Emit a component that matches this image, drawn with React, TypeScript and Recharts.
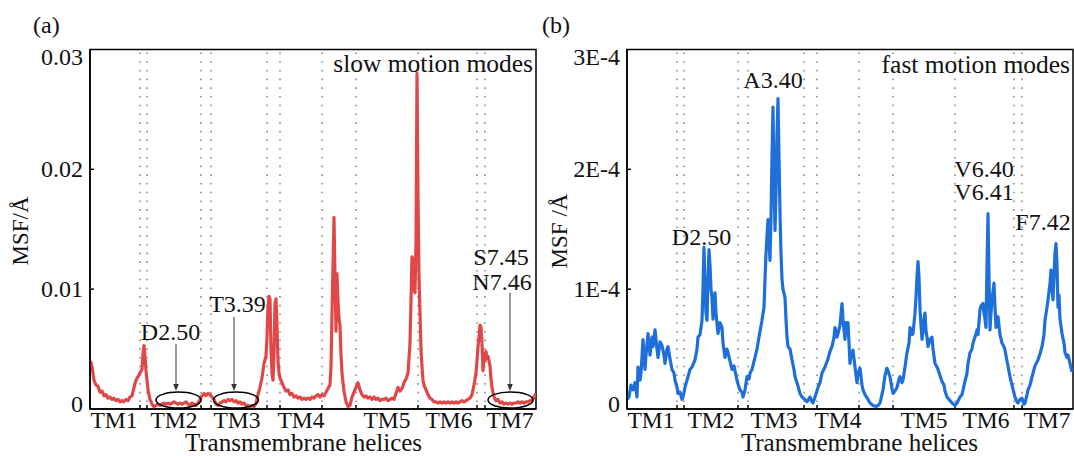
import React from 'react';
import { LineChart, Line, XAxis, YAxis, ReferenceLine, ReferenceDot, ReferenceArea } from 'recharts';

// ---------- shared axis data ----------
const residueDomain: [number, number] = [0, 446];
const helixBoundaries = [50, 57, 111, 121, 177, 190, 232, 266, 328, 387, 395];
const helixLabels = ['TM1', 'TM2', 'TM3', 'TM4', 'TM5', 'TM6', 'TM7'];
const helixCenters = [24, 84, 147, 211, 297, 359, 420];

// ---------- (a) slow motion modes, MSF in units of 1e-3 ----------
const slowResidue = [
  0, 1, 2, 4, 6, 8, 10, 12, 14, 16,
  18, 20, 22, 24, 26, 28, 30, 32, 34, 36,
  38, 40, 42, 44, 46, 48, 50, 52, 53, 54,
  55, 56, 57, 58, 60, 62, 64, 66, 68, 70,
  72, 74, 76, 78, 80, 82, 84, 86, 88, 90,
  92, 94, 96, 98, 100, 102, 104, 106, 108, 110,
  112, 114, 116, 118, 120, 122, 124, 126, 128, 130,
  132, 134, 136, 138, 140, 142, 144, 146, 148, 150,
  152, 154, 156, 158, 160, 162, 164, 166, 168, 170,
  172, 174, 176, 177, 178, 179, 180, 181, 182, 183,
  184, 185, 186, 187, 188, 189, 190, 192, 194, 196,
  198, 200, 202, 204, 206, 208, 210, 212, 214, 216,
  218, 220, 222, 224, 226, 228, 230, 232, 234, 236,
  238, 240, 241, 242, 243, 244, 245, 246, 247, 248,
  249, 250, 251, 252, 253, 254, 256, 258, 260, 262,
  264, 266, 268, 270, 272, 274, 276, 278, 280, 282,
  284, 286, 288, 290, 292, 294, 296, 298, 300, 302,
  304, 306, 308, 310, 312, 314, 316, 318, 320, 321,
  322, 323, 324, 325, 326, 327, 328, 329, 330, 331,
  332, 333, 334, 336, 338, 340, 342, 344, 346, 348,
  350, 352, 354, 356, 358, 360, 362, 364, 366, 368,
  370, 372, 374, 376, 378, 380, 382, 384, 386, 387,
  388, 389, 390, 391, 392, 393, 394, 395, 396, 397,
  398, 399, 400, 401, 402, 403, 404, 406, 408, 410,
  412, 414, 416, 418, 420, 422, 424, 426, 428, 430,
  432, 434, 436, 438, 440, 442, 444, 446,
];
const slowMsf = [
  3.6, 3.9, 3.5, 2.4, 2.0, 1.9, 1.4, 1.5, 1.1, 1.2,
  0.9, 1.0, 0.8, 0.9, 0.7, 0.8, 0.6, 0.7, 0.6, 0.8,
  0.7, 1.0, 1.1, 1.8, 2.4, 2.7, 3.0, 3.3, 4.6, 5.3,
  4.4, 3.2, 2.4, 1.6, 0.8, 0.4, 0.2, 0.3, 0.4, 0.3,
  0.4, 0.5, 0.4, 0.5, 0.4, 0.5, 0.6, 0.5, 0.4, 0.5,
  0.4, 0.5, 0.6, 0.4, 0.3, 0.5, 0.4, 0.3, 0.5, 0.8,
  1.1, 1.3, 1.1, 1.3, 1.2, 1.0, 0.8, 0.4, 0.3, 0.5,
  0.6, 0.7, 0.6, 0.8, 0.7, 0.8, 0.6, 0.7, 0.5, 0.6,
  0.4, 0.5, 0.3, 0.3, 0.2, 0.3, 0.2, 0.5, 1.2, 1.8,
  2.6, 3.8, 4.4, 6.0, 8.5, 9.4, 9.2, 5.0, 3.0, 2.4,
  4.5, 8.8, 9.2, 7.0, 4.0, 3.0, 2.6, 2.2, 1.8, 1.5,
  1.6, 1.2, 1.3, 1.0, 1.1, 0.9, 1.0, 0.8, 0.9, 0.8,
  0.9, 0.8, 1.0, 0.9, 1.1, 1.2, 1.0, 1.2, 1.1, 1.4,
  1.7, 2.0, 3.5, 8.0, 12.0, 16.0, 11.0, 6.5, 11.3, 9.0,
  7.5, 7.0, 4.5, 3.0, 2.2, 1.5, 0.6, 0.2, 0.3, 1.0,
  1.4, 1.8, 2.2, 1.6, 1.2, 1.0, 1.1, 0.9, 1.0, 0.8,
  1.0, 0.8, 0.9, 0.7, 0.8, 0.8, 0.9, 0.7, 0.8, 0.9,
  0.8, 1.3, 1.8, 1.5, 1.7, 2.2, 2.5, 3.0, 5.5, 9.0,
  12.7, 12.5, 10.0, 9.7, 14.0, 28.0, 18.0, 11.0, 8.0, 5.0,
  3.5, 2.4, 2.0, 1.6, 1.2, 0.9, 0.8, 0.6, 0.6, 0.5,
  0.6, 0.5, 0.6, 0.5, 0.6, 0.5, 0.6, 0.5, 0.6, 0.5,
  0.6, 0.7, 0.6, 0.7, 0.8, 0.9, 1.2, 2.0, 3.0, 4.0,
  5.2, 6.0, 7.0, 6.8, 5.5, 3.2, 4.6, 4.0, 4.8, 4.2,
  4.4, 4.0, 3.6, 2.5, 1.8, 1.4, 1.0, 0.7, 0.8, 0.5,
  0.6, 0.4, 0.5, 0.4, 0.5, 0.4, 0.5, 0.5, 0.6, 0.5,
  0.6, 0.5, 0.6, 0.6, 0.7, 0.7, 1.0, 1.3,
];
const slowTicks = [0, 10, 20, 30];
const slowTickLabels = ['0', '0.01', '0.02', '0.03'];

// ---------- (b) fast motion modes, MSF in units of 1e-4 ----------
const fastResidue = [
  0, 2, 4, 6, 8, 10, 11, 13, 14, 16,
  18, 19, 21, 23, 25, 26, 28, 30, 31, 33,
  35, 37, 38, 40, 41, 43, 45, 47, 48, 50,
  51, 53, 55, 56, 58, 60, 63, 65, 68, 70,
  71, 73, 75, 76, 77, 78, 79, 80, 81, 82,
  83, 84, 85, 86, 87, 88, 89, 91, 93, 95,
  96, 98, 100, 101, 103, 105, 107, 110, 112, 113,
  115, 116, 118, 120, 122, 123, 125, 128, 130, 132,
  135, 137, 138, 139, 140, 141, 142, 143, 144, 145,
  146, 147, 148, 149, 150, 151, 152, 153, 154, 155,
  156, 158, 159, 160, 161, 163, 165, 167, 168, 170,
  173, 175, 178, 180, 183, 185, 186, 188, 191, 193,
  195, 198, 201, 203, 205, 207, 208, 210, 211, 213,
  215, 216, 218, 219, 221, 223, 224, 226, 228, 230,
  231, 233, 235, 236, 238, 241, 243, 246, 249, 251,
  253, 256, 258, 260, 261, 263, 265, 266, 268, 270,
  272, 273, 275, 276, 278, 280, 282, 283, 285, 286,
  288, 289, 290, 291, 292, 293, 294, 295, 296, 297,
  298, 299, 300, 301, 303, 305, 306, 308, 310, 311,
  313, 315, 317, 318, 320, 323, 325, 328, 330, 333,
  335, 338, 340, 341, 343, 345, 346, 348, 350, 351,
  353, 354, 356, 357, 358, 359, 360, 361, 362, 363,
  364, 365, 366, 367, 368, 369, 370, 371, 373, 375,
  377, 378, 380, 383, 385, 388, 390, 391, 393, 395,
  397, 398, 400, 401, 403, 406, 408, 411, 413, 415,
  417, 418, 420, 421, 423, 424, 425, 426, 427, 428,
  429, 430, 431, 432, 433, 435, 437, 438, 440, 441,
  443, 445,
];
const fastMsf = [
  0.08, 0.1, 0.2, 0.16, 0.22, 0.1, 0.35, 0.24, 0.3, 0.58,
  0.33, 0.45, 0.63, 0.45, 0.6, 0.52, 0.66, 0.5, 0.43, 0.56,
  0.53, 0.45, 0.38, 0.5, 0.52, 0.42, 0.33, 0.3, 0.24, 0.18,
  0.13, 0.14, 0.08, 0.1, 0.18, 0.24, 0.33, 0.35, 0.41, 0.5,
  0.6, 0.62, 0.74, 1.0, 1.35, 1.0, 0.8, 0.74, 1.1, 1.33,
  1.2, 1.0, 0.93, 0.75, 0.85, 0.97, 0.8, 0.63, 0.72, 0.68,
  0.55, 0.43, 0.5, 0.47, 0.4, 0.33, 0.36, 0.24, 0.18, 0.16,
  0.14, 0.1, 0.16, 0.27, 0.25, 0.3, 0.33, 0.43, 0.5, 0.6,
  0.74, 0.85, 1.08, 1.3, 1.45, 1.58, 1.4, 1.24, 1.6, 2.1,
  2.52, 1.9, 1.49, 1.8, 2.3, 2.59, 2.1, 1.63, 1.3, 1.08,
  1.0, 0.93, 0.75, 0.6, 0.52, 0.5, 0.41, 0.33, 0.27, 0.22,
  0.13, 0.1, 0.08, 0.06, 0.1, 0.06, 0.05, 0.1, 0.18, 0.22,
  0.3, 0.35, 0.42, 0.48, 0.52, 0.6, 0.68, 0.6, 0.63, 0.7,
  0.88, 0.75, 0.58, 0.72, 0.72, 0.38, 0.45, 0.49, 0.35, 0.22,
  0.3, 0.34, 0.2, 0.16, 0.12, 0.08, 0.05, 0.03, 0.02, 0.03,
  0.05, 0.16, 0.28, 0.34, 0.32, 0.27, 0.17, 0.13, 0.15, 0.18,
  0.25, 0.27, 0.22, 0.24, 0.35, 0.47, 0.55, 0.68, 0.62, 0.63,
  0.8, 0.93, 1.1, 1.23, 1.1, 0.83, 0.7, 0.58, 0.65, 0.75,
  0.8, 0.65, 0.6, 0.52, 0.58, 0.6, 0.5, 0.38, 0.35, 0.33,
  0.28, 0.23, 0.2, 0.15, 0.1, 0.07, 0.05, 0.03, 0.05, 0.1,
  0.12, 0.23, 0.3, 0.38, 0.47, 0.5, 0.55, 0.6, 0.66, 0.62,
  0.83, 0.86, 0.88, 0.8, 0.75, 0.68, 1.2, 1.63, 1.1, 0.66,
  0.8, 0.91, 0.98, 1.05, 0.85, 0.68, 0.72, 0.77, 0.62, 0.55,
  0.52, 0.49, 0.4, 0.27, 0.2, 0.1, 0.06, 0.05, 0.08, 0.09,
  0.04, 0.05, 0.12, 0.16, 0.2, 0.3, 0.36, 0.41, 0.46, 0.52,
  0.62, 0.74, 0.85, 0.91, 1.05, 1.16, 1.0, 0.91, 1.1, 1.3,
  1.38, 1.2, 0.85, 0.95, 0.75, 0.63, 0.55, 0.47, 0.43, 0.45,
  0.38, 0.31,
];
const fastTicks = [0, 1, 2, 3];
const fastTickLabels = ['0', '1E-4', '2E-4', '3E-4'];

// ---------- annotations (in data coordinates) ----------
type Note = { r: number; v: number; text: string; anchor?: 'middle' | 'end'; size?: number };
type Arrow = { r: number; from: number; to: number };
type Oval = { r: number; v: number };

const slowNotes: Note[] = [
  { r: 443, v: 28.1, text: 'slow motion modes', anchor: 'end', size: 25.5 },
  { r: 80.5, v: 5.75, text: 'D2.50' },
  { r: 147.5, v: 8.1, text: 'T3.39' },
  { r: 411, v: 12.0, text: 'S7.45' },
  { r: 412, v: 9.9, text: 'N7.46' },
];
const slowArrows: Arrow[] = [
  { r: 86, from: 5.4, to: 1.5 },
  { r: 144, from: 7.7, to: 1.5 },
  { r: 420, from: 9.7, to: 1.5 },
];
const slowOvals: Oval[] = [
  { r: 88.5, v: 0.75 },
  { r: 146, v: 0.75 },
  { r: 420.5, v: 0.75 },
];

const fastNotes: Note[] = [
  { r: 443, v: 2.808, text: 'fast motion modes', anchor: 'end', size: 25.5 },
  { r: 146, v: 2.675, text: 'A3.40' },
  { r: 74.5, v: 1.367, text: 'D2.50' },
  { r: 357, v: 1.933, text: 'V6.40' },
  { r: 357, v: 1.742, text: 'V6.41' },
  { r: 416, v: 1.49, text: 'F7.42' },
];

const FONT = "'Liberation Serif', 'Times New Roman', Times, serif";
const INK = '#111';

const XTick = (p: any) => {
  const idx = helixCenters.indexOf(p.payload.value);
  return (
    <text x={p.x} y={p.y} dy={19} textAnchor="middle" fontFamily={FONT} fontSize={23.5} fill={INK}>
      {helixLabels[idx]}
    </text>
  );
};

const makeYTick = (ticks: number[], labels: string[]) => (p: any) => {
  const v = p.payload.value;
  const idx = ticks.indexOf(v);
  let shift = 0;
  if (idx === ticks.length - 1) shift = 7;
  if (idx === 0) shift = -5;
  return (
    <text x={p.x} y={p.y + shift} dy={8} textAnchor="end" fontFamily={FONT} fontSize={24} fill={INK}>
      {labels[idx]}
    </text>
  );
};

const BoundaryShape = (p: any) => {
  const top = Math.min(p.y1, p.y2);
  const bot = Math.max(p.y1, p.y2);
  return (
    <g>
      <line x1={p.x1} x2={p.x1} y1={top + 3} y2={bot} stroke="#8a8a8a" strokeWidth={1.6} strokeDasharray="1.6 7.1" />
      <line x1={p.x1} x2={p.x1} y1={bot} y2={bot - 4} stroke="#000" strokeWidth={1.5} />
    </g>
  );
};

const YTickMark = (p: any) => {
  const left = Math.min(p.x1, p.x2);
  return <line x1={left} x2={left + 4} y1={p.y1} y2={p.y1} stroke="#000" strokeWidth={1.5} />;
};

const ArrowShape = (p: any) => {
  const top = Math.min(p.y1, p.y2);
  const bot = Math.max(p.y1, p.y2);
  const x = p.x1;
  return (
    <g>
      <line x1={x} x2={x} y1={top} y2={bot - 5} stroke="#333" strokeWidth={1} />
      <polygon points={`${x},${bot} ${x - 2.8},${bot - 7} ${x + 2.8},${bot - 7}`} fill="#333" />
    </g>
  );
};

type PanelProps = {
  residue: number[];
  msf: number[];
  color: string;
  ticks: number[];
  tickLabels: string[];
  notes: Note[];
  arrows: Arrow[];
  ovals: Oval[];
  width: number;
  rightMargin: number;
};

function Panel({ residue, msf, color, ticks, tickLabels, notes, arrows, ovals, width, rightMargin }: PanelProps) {
  const data = residue.map((r, i) => ({ r, v: msf[i] }));
  const yMax = ticks[ticks.length - 1];
  const axisLine = { stroke: '#000', strokeWidth: 1.5 };
  return (
    <LineChart width={width} height={456} data={data} margin={{ top: 49.5, right: rightMargin, bottom: 0, left: 0 }}>
      <XAxis
        type="number"
        dataKey="r"
        domain={residueDomain}
        ticks={helixCenters}
        interval={0}
        tickLine={false}
        tickSize={0}
        tickMargin={0}
        height={47}
        axisLine={axisLine}
        tick={XTick}
        allowDataOverflow
      />
      <YAxis
        type="number"
        domain={[0, yMax]}
        ticks={ticks}
        interval={0}
        width={90}
        tickLine={false}
        tickSize={0}
        tickMargin={7}
        axisLine={axisLine}
        tick={makeYTick(ticks, tickLabels)}
        allowDataOverflow
      />
      <ReferenceArea x1={0} x2={446} y1={0} y2={yMax} fill="none" stroke="#000" strokeWidth={1.5} />
      {helixBoundaries.map((b) => (
        <ReferenceLine key={'b' + b} x={b} shape={BoundaryShape} />
      ))}
      {ticks.slice(1, -1).map((t) => (
        <ReferenceLine key={'t' + t} y={t} shape={YTickMark} />
      ))}
      <Line
        type="linear"
        dataKey="v"
        stroke={color}
        strokeWidth={3.2}
        dot={false}
        isAnimationActive={false}
        strokeLinejoin="round"
      />
      {ovals.map((o, i) => (
        <ReferenceDot
          key={'o' + i}
          x={o.r}
          y={o.v}
          shape={(p: any) => (
            <ellipse cx={p.cx} cy={p.cy} rx={22.5} ry={8} fill="none" stroke="#000" strokeWidth={1.5} />
          )}
        />
      ))}
      {arrows.map((a, i) => (
        <ReferenceLine
          key={'a' + i}
          segment={[
            { x: a.r, y: a.from },
            { x: a.r, y: a.to },
          ]}
          shape={ArrowShape}
        />
      ))}
      {notes.map((n, i) => (
        <ReferenceDot
          key={'n' + i}
          x={n.r}
          y={n.v}
          shape={(p: any) => (
            <text
              x={p.cx}
              y={p.cy}
              textAnchor={n.anchor || 'middle'}
              fontFamily={FONT}
              fontSize={n.size || 24}
              fill={INK}
            >
              {n.text}
            </text>
          )}
        />
      ))}
    </LineChart>
  );
}

export default function App() {
  const txt = { fontFamily: FONT, fill: INK } as const;
  return (
    <div style={{ position: 'absolute', left: 0, top: 0, width: 1074, height: 456, background: '#fff', overflow: 'hidden' }}>
      <div style={{ position: 'absolute', left: 0, top: 0 }}>
        <Panel
          residue={slowResidue}
          msf={slowMsf}
          color="#E04848"
          ticks={slowTicks}
          tickLabels={slowTickLabels}
          notes={slowNotes}
          arrows={slowArrows}
          ovals={slowOvals}
          width={540}
          rightMargin={4}
        />
      </div>
      <div style={{ position: 'absolute', left: 537, top: 0 }}>
        <Panel
          residue={fastResidue}
          msf={fastMsf}
          color="#1F6FDB"
          ticks={fastTicks}
          tickLabels={fastTickLabels}
          notes={fastNotes}
          arrows={[]}
          ovals={[]}
          width={537}
          rightMargin={1}
        />
      </div>
      <svg width={1074} height={456} style={{ position: 'absolute', left: 0, top: 0, pointerEvents: 'none' }}>
        <text x={33} y={33} fontSize={24} {...txt}>(a)</text>
        <text x={542} y={33} fontSize={24} {...txt}>(b)</text>
        <text x={28} y={231} fontSize={23} textAnchor="middle" transform="rotate(-90 28 231)" {...txt}>MSF/Å</text>
        <text x={567} y={231} fontSize={23} textAnchor="middle" transform="rotate(-90 567 231)" {...txt}>MSF /Å</text>
        <text x={303.5} y={451} fontSize={25} textAnchor="middle" {...txt}>Transmembrane helices</text>
        <text x={859.5} y={451} fontSize={25} textAnchor="middle" {...txt}>Transmembrane helices</text>
      </svg>
    </div>
  );
}
